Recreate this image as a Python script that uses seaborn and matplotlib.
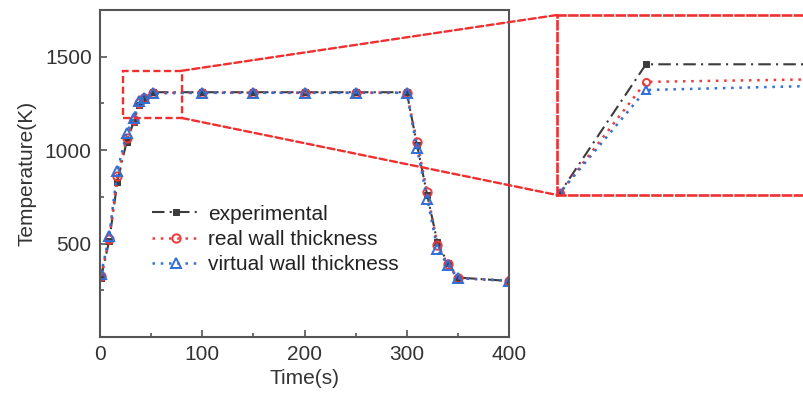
import numpy as np
import pandas as pd
import matplotlib
matplotlib.use("Agg")
import matplotlib.pyplot as plt
import seaborn as sns
from matplotlib.patches import Rectangle, ConnectionPatch

# ---- data ----
time_s = [1, 9, 17, 26, 33, 38, 43, 52, 100, 150, 200, 250, 300,
          310, 320, 330, 340, 350, 400]
experimental = [315, 515, 830, 1045, 1150, 1240, 1280, 1310, 1310, 1310, 1310, 1310, 1310,
                1030, 760, 507, 395, 318, 300]
real_wall = [325, 525, 860, 1065, 1160, 1250, 1280, 1305.9, 1307.5, 1307.5, 1307.5, 1307.5, 1307.5,
             1045, 776, 495, 390, 316, 300]
virtual_wall = [335, 540, 890, 1090, 1170, 1265, 1280, 1304, 1306.6, 1306.6, 1306.6, 1306.6, 1306.6,
                1010, 740, 471, 385, 315, 301]

series_names = ["experimental", "real wall thickness", "virtual wall thickness"]
x_ticks = [0, 100, 200, 300, 400]
y_ticks = [500, 1000, 1500]
zoom_box = (22.5, 80, 1172, 1425)      # region marked on the main axes
inset_xlim = (42.7, 77.2)
inset_ylim = (1279.5, 1321.5)

df = pd.DataFrame({"Time": time_s, "experimental": experimental,
                   "real wall thickness": real_wall,
                   "virtual wall thickness": virtual_wall})

sns.set_theme(style="white")
plt.rcParams["font.family"] = ["Liberation Sans", "DejaVu Sans"]

fig = plt.figure(figsize=(8.04, 3.93), dpi=100)
ax = fig.add_axes([100/804, 56/393, 409/804, 327/393])

styles = {
    "experimental": dict(color="#3c3c3c", linestyle=(0, (6, 2.5, 1, 2.5)), lw=1.5,
                         marker="s", ms=4.5, mfc="#3c3c3c", mec="#3c3c3c"),
    "real wall thickness": dict(color="#f03a3a", linestyle=(0, (1, 2.3)), lw=1.8,
                                marker="o", ms=6, mfc="none", mec="#f03a3a", mew=1.4),
    "virtual wall thickness": dict(color="#2f6fd6", linestyle=(0, (1, 2.3)), lw=1.8,
                                   marker="^", ms=6.5, mfc="none", mec="#2f6fd6", mew=1.4),
}

for name in series_names:
    sns.lineplot(data=df, x="Time", y=name, ax=ax, label=name, estimator=None,
                 sort=False, **styles[name])

ax.set_xlim(0, 400)
ax.set_ylim(0, 1750)
ax.set_xticks(x_ticks)
ax.set_yticks(y_ticks)
ax.set_xticks([50, 150, 250, 350], minor=True)
ax.set_yticks([250, 750, 1250], minor=True)
ax.tick_params(axis="both", which="major", direction="in", length=5, width=1.2,
               colors="#555555", labelcolor="#333333", labelsize=15,
               bottom=True, left=True, top=False, right=False, pad=6)
ax.tick_params(axis="both", which="minor", direction="in", length=3, width=1.2,
               colors="#555555", bottom=True, left=True, top=False, right=False)
for sp in ax.spines.values():
    sp.set_color("#555555")
    sp.set_linewidth(1.5)
ax.set_xlabel("Time(s)", fontsize=15, color="#333333", labelpad=3)
ax.set_ylabel("Temperature(K)", fontsize=15, color="#333333", labelpad=6)

leg = ax.legend(loc="upper left", bbox_to_anchor=(0.107, 0.43), frameon=False,
                fontsize=15, handlelength=2.3, handletextpad=0.4, labelspacing=0.3,
                borderaxespad=0)
for t in leg.get_texts():
    t.set_color("#222222")

# zoom box on main axes
x0, x1, y0, y1 = zoom_box
ax.add_patch(Rectangle((x0, y0), x1 - x0, y1 - y0, fill=False, ec="#f03030",
                       ls=(0, (3, 1.5)), lw=1.7, zorder=5))

# inset
axins = fig.add_axes([557/804, 198/393, 330/804, 180/393])
for name in series_names:
    st = dict(styles[name])
    st["ms"] = st["ms"] * 0.85
    sns.lineplot(data=df, x="Time", y=name, ax=axins, estimator=None, sort=False,
                 legend=False, **st)
axins.set_xlim(*inset_xlim)
axins.set_ylim(*inset_ylim)
axins.set_xticks([])
axins.set_yticks([])
axins.set_xlabel("")
axins.set_ylabel("")
for sp in axins.spines.values():
    sp.set_color("#f03030")
    sp.set_linestyle((0, (3, 1.5)))
    sp.set_linewidth(1.9)

for (ya, yb) in [(y1, 1), (y0, 0)]:
    con = ConnectionPatch(xyA=(x1, ya), coordsA=ax.transData,
                          xyB=(0, yb), coordsB=axins.transAxes,
                          color="#f03030", ls=(0, (3, 1.5)), lw=1.7)
    fig.add_artist(con)

fig.savefig("out.png", dpi=100)
